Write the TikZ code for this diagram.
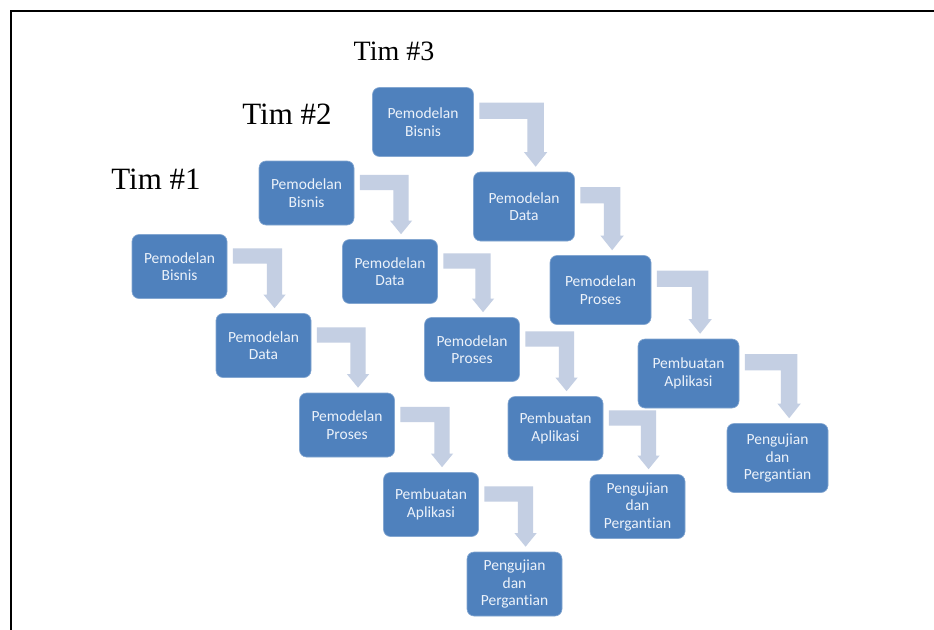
\documentclass[tikz,border=0pt]{standalone}
\usepackage{fontspec}
\setmainfont{Liberation Serif}
\newfontfamily\boxfont[Ligatures={NoCommon,NoRequired,NoContextual}]{Carlito}
\usetikzlibrary{calc}
\definecolor{boxblue}{RGB}{79,129,189}
\definecolor{boxtext}{RGB}{236,242,250}
\definecolor{arrowc}{RGB}{196,207,227}
\tikzset{
  stage/.style={rectangle, rounded corners=7pt, fill=boxblue, draw=boxblue!70!white, line width=0.6pt,
    text=boxtext, align=center, inner sep=0pt, font=\boxfont\fontsize{15.5}{17.5}\selectfont},
  small/.style={stage, minimum width=95pt, minimum height=64pt},
  big/.style={stage, minimum width=101pt, minimum height=69pt},
  team/.style={font=\fontsize{31}{34}\selectfont, anchor=base, inner sep=0pt},
}
\newcommand\elbow[2]{%
  \fill[arrowc] let \p1=(#1.north east), \p2=(#2.north west), \p3=(#2.north east), \p4=(#1.south east),
    \n1={\x2+0.695*(\x3-\x2)},
    \n2={0.235*(\y1-\y4)},
    \n3={0.21*(\y1-\y4)},
    \n4={0.22*(\y1-\y4)}
  in (\x1+5.5pt, \y1-\n4) -- (\n1, \y1-\n4) -- (\n1, \y2+5pt+\n3) -- (\n1+3.5pt, \y2+5pt+\n3)
     -- (\n1-\n2/2, \y2+5pt) -- (\n1-\n2-3.5pt, \y2+5pt+\n3) -- (\n1-\n2, \y2+5pt+\n3)
     -- (\n1-\n2, \y1-\n4-\n2) -- (\x1+5.5pt, \y1-\n4-\n2) -- cycle;}
\begin{document}
\begin{tikzpicture}[x=1pt,y=-1pt]
\useasboundingbox (0,0) rectangle (934,629);
\fill[white] (0,0) rectangle (934,629);
\draw[line width=1.8pt] (11.3,640) -- (11.3,11) -- (945,11);

% team labels
\node[team, font=\fontsize{28}{31}\selectfont] (t3) at (394,60) {Tim \#3};
\node[team] (t2) at (287,124) {Tim \#2};
\node[team] (t1) at (156,189) {Tim \#1};

% Team 1
\node[small] (a1) at (179.5,266.5) {Pemodelan\\Bisnis};
\node[small] (a2) at (263.5,345.5) {Pemodelan\\Data};
\node[small] (a3) at (347,425) {Pemodelan\\Proses};
\node[small] (a4) at (431,504.5) {Pembuatan\\Aplikasi};
\node[small] (a5) at (514.5,584) {Pengujian\\dan\\Pergantian};

% Team 2
\node[small] (b1) at (306.5,193) {Pemodelan\\Bisnis};
\node[small] (b2) at (390,271.5) {Pemodelan\\Data};
\node[small] (b3) at (472,349.5) {Pemodelan\\Proses};
\node[small] (b4) at (555.5,428.5) {Pembuatan\\Aplikasi};
\node[small] (b5) at (637.5,506.5) {Pengujian\\dan\\Pergantian};

% Team 3
\node[big] (c1) at (423,122) {Pemodelan\\Bisnis};
\node[big] (c2) at (524,206.5) {Pemodelan\\Data};
\node[big] (c3) at (600.5,290) {Pemodelan\\Proses};
\node[big] (c4) at (688.5,373.5) {Pembuatan\\Aplikasi};
\node[big] (c5) at (777.5,458) {Pengujian\\dan\\Pergantian};

\elbow{a1}{a2}\elbow{a2}{a3}\elbow{a3}{a4}\elbow{a4}{a5}
\elbow{b1}{b2}\elbow{b2}{b3}\elbow{b3}{b4}\elbow{b4}{b5}
\elbow{c1}{c2}\elbow{c2}{c3}\elbow{c3}{c4}\elbow{c4}{c5}
\end{tikzpicture}
\end{document}
